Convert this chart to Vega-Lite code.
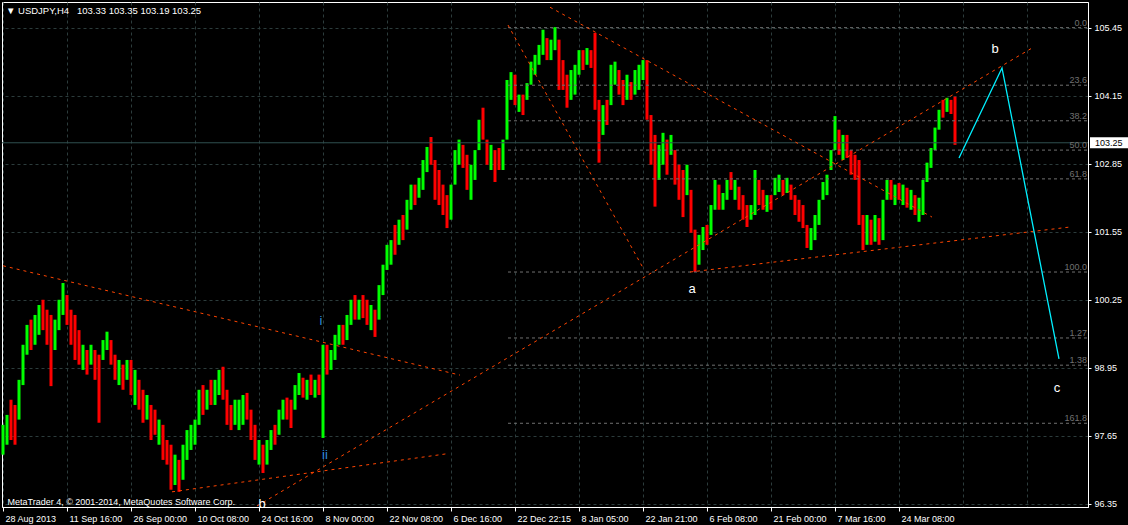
{
 "$schema": "https://vega.github.io/schema/vega-lite/v6.json",
 "width": 1086, "height": 505,
 "autosize": {"type": "none"},
 "padding": {"left": 2, "top": 2, "right": 40, "bottom": 18},
 "background": "#000000",
 "config": {"view": {"stroke": "#ffffff", "strokeWidth": 1, "fill": "#000000"}, "font": "Liberation Sans"},
 "datasets": {
  "bars": [
{"i":0,"o":97.40,"h":97.86,"l":97.29,"c":97.75},{"i":4,"o":97.55,"h":98.05,"l":97.48,"c":97.98},{"i":8,"o":98.25,"h":98.34,"l":97.57,"c":97.65},{"i":12,"o":98.15,"h":98.24,"l":97.48,"c":97.55},{"i":16,"o":97.98,"h":98.72,"l":97.96,"c":98.65},{"i":20,"o":98.68,"h":99.39,"l":98.62,"c":99.32},{"i":24,"o":99.28,"h":99.77,"l":99.20,"c":99.70},{"i":28,"o":99.75,"h":99.87,"l":99.29,"c":99.38},{"i":32,"o":99.45,"h":99.96,"l":99.39,"c":99.90},{"i":36,"o":99.65,"h":100.15,"l":99.58,"c":100.08},
{"i":40,"o":100.15,"h":100.25,"l":99.67,"c":99.75},{"i":44,"o":99.98,"h":100.06,"l":99.39,"c":99.48},{"i":48,"o":99.85,"h":99.96,"l":98.60,"c":99.40},{"i":52,"o":99.38,"h":99.87,"l":99.29,"c":99.80},{"i":56,"o":99.75,"h":100.25,"l":99.67,"c":100.18},{"i":60,"o":100.05,"h":100.57,"l":99.96,"c":100.50},{"i":64,"o":100.28,"h":100.34,"l":99.77,"c":99.85},{"i":68,"o":99.98,"h":100.06,"l":99.39,"c":99.48},{"i":72,"o":99.85,"h":99.96,"l":99.10,"c":99.20},{"i":76,"o":99.58,"h":99.67,"l":99.01,"c":99.10},
{"i":80,"o":98.98,"h":99.39,"l":98.91,"c":99.32},{"i":84,"o":99.22,"h":99.29,"l":98.82,"c":98.88},{"i":88,"o":99.05,"h":99.39,"l":99.01,"c":99.33},{"i":92,"o":99.22,"h":99.29,"l":98.72,"c":98.80},{"i":96,"o":99.12,"h":99.20,"l":97.90,"c":98.85},{"i":100,"o":99.15,"h":99.48,"l":99.10,"c":99.42},{"i":104,"o":99.35,"h":99.64,"l":99.29,"c":99.58},{"i":108,"o":99.42,"h":99.48,"l":99.01,"c":99.08},{"i":112,"o":99.12,"h":99.20,"l":98.72,"c":98.80},{"i":116,"o":98.70,"h":99.10,"l":98.62,"c":99.02},
{"i":120,"o":98.95,"h":99.01,"l":98.53,"c":98.60},{"i":124,"o":98.78,"h":99.10,"l":98.72,"c":99.05},{"i":128,"o":99.02,"h":99.10,"l":98.43,"c":98.50},{"i":132,"o":98.30,"h":98.91,"l":98.24,"c":98.85},{"i":136,"o":98.65,"h":98.72,"l":98.15,"c":98.22},{"i":140,"o":98.45,"h":98.53,"l":97.90,"c":98.00},{"i":144,"o":98.02,"h":98.43,"l":97.96,"c":98.38},{"i":148,"o":98.18,"h":98.24,"l":97.57,"c":97.65},{"i":152,"o":98.05,"h":98.15,"l":97.67,"c":97.75},{"i":156,"o":97.55,"h":97.96,"l":97.48,"c":97.90},
{"i":160,"o":97.80,"h":97.86,"l":97.19,"c":97.28},{"i":164,"o":97.50,"h":97.57,"l":97.10,"c":97.18},{"i":168,"o":97.40,"h":97.48,"l":96.62,"c":96.75},{"i":172,"o":96.80,"h":97.29,"l":96.71,"c":97.22},{"i":176,"o":97.12,"h":97.19,"l":96.58,"c":96.68},{"i":180,"o":96.88,"h":97.48,"l":96.81,"c":97.40},{"i":184,"o":97.28,"h":97.76,"l":97.19,"c":97.70},{"i":188,"o":97.45,"h":97.86,"l":97.38,"c":97.80},{"i":192,"o":97.55,"h":97.96,"l":97.48,"c":97.90},{"i":196,"o":97.92,"h":98.53,"l":97.86,"c":98.45},
{"i":200,"o":98.55,"h":98.62,"l":98.05,"c":98.15},{"i":204,"o":98.18,"h":98.53,"l":98.15,"c":98.48},{"i":208,"o":98.65,"h":98.72,"l":98.24,"c":98.30},{"i":212,"o":98.30,"h":98.72,"l":98.24,"c":98.66},{"i":216,"o":98.50,"h":98.91,"l":98.43,"c":98.85},{"i":220,"o":98.90,"h":98.97,"l":98.34,"c":98.40},{"i":224,"o":98.45,"h":98.53,"l":97.86,"c":97.95},{"i":228,"o":98.18,"h":98.24,"l":97.76,"c":97.82},{"i":232,"o":97.92,"h":98.34,"l":97.86,"c":98.28},{"i":236,"o":97.82,"h":98.34,"l":97.76,"c":98.25},
{"i":240,"o":97.92,"h":98.43,"l":97.86,"c":98.38},{"i":244,"o":98.40,"h":98.47,"l":97.96,"c":98.02},{"i":248,"o":98.08,"h":98.15,"l":97.57,"c":97.65},{"i":252,"o":97.78,"h":97.86,"l":97.19,"c":97.28},{"i":256,"o":97.15,"h":97.57,"l":97.10,"c":97.50},{"i":260,"o":97.40,"h":97.48,"l":96.94,"c":97.02},{"i":264,"o":97.15,"h":97.57,"l":97.10,"c":97.50},{"i":268,"o":97.42,"h":97.76,"l":97.38,"c":97.70},{"i":272,"o":97.80,"h":97.86,"l":97.48,"c":97.55},{"i":276,"o":97.72,"h":98.15,"l":97.67,"c":98.10},
{"i":280,"o":98.00,"h":98.34,"l":97.96,"c":98.28},{"i":284,"o":98.32,"h":98.38,"l":97.96,"c":98.02},{"i":288,"o":98.25,"h":98.34,"l":97.80,"c":97.88},{"i":292,"o":98.20,"h":98.62,"l":98.15,"c":98.55},{"i":296,"o":98.48,"h":98.85,"l":98.43,"c":98.80},{"i":300,"o":98.70,"h":98.76,"l":98.38,"c":98.42},{"i":304,"o":98.38,"h":98.72,"l":98.34,"c":98.66},{"i":308,"o":98.76,"h":98.82,"l":98.43,"c":98.48},{"i":312,"o":98.42,"h":98.72,"l":98.38,"c":98.68},{"i":316,"o":98.75,"h":98.82,"l":98.43,"c":98.48},
{"i":320,"o":97.80,"h":99.39,"l":97.61,"c":99.30},{"i":324,"o":99.30,"h":99.39,"l":98.82,"c":98.90},{"i":328,"o":98.95,"h":99.29,"l":98.91,"c":99.24},{"i":332,"o":99.15,"h":99.58,"l":99.10,"c":99.52},{"i":336,"o":99.42,"h":99.77,"l":99.39,"c":99.72},{"i":340,"o":99.72,"h":99.77,"l":99.39,"c":99.45},{"i":344,"o":99.52,"h":99.96,"l":99.48,"c":99.90},{"i":348,"o":99.82,"h":100.25,"l":99.77,"c":100.20},{"i":352,"o":100.28,"h":100.34,"l":99.87,"c":99.92},{"i":356,"o":99.90,"h":100.25,"l":99.87,"c":100.20},
{"i":360,"o":100.28,"h":100.34,"l":99.90,"c":99.95},{"i":364,"o":100.18,"h":100.25,"l":99.77,"c":99.82},{"i":368,"o":99.72,"h":100.15,"l":99.67,"c":100.10},{"i":372,"o":99.98,"h":100.06,"l":99.54,"c":99.60},{"i":376,"o":99.92,"h":100.53,"l":99.87,"c":100.45},{"i":380,"o":100.40,"h":100.92,"l":100.34,"c":100.85},{"i":384,"o":100.88,"h":101.30,"l":100.82,"c":101.25},{"i":388,"o":100.98,"h":101.39,"l":100.92,"c":101.33},{"i":392,"o":101.60,"h":101.68,"l":101.11,"c":101.18},{"i":396,"o":101.35,"h":101.78,"l":101.30,"c":101.72},
{"i":400,"o":101.80,"h":101.87,"l":101.39,"c":101.45},{"i":404,"o":101.65,"h":102.16,"l":101.59,"c":102.10},{"i":408,"o":102.02,"h":102.45,"l":101.97,"c":102.40},{"i":412,"o":102.40,"h":102.45,"l":102.06,"c":102.12},{"i":416,"o":102.25,"h":102.58,"l":102.20,"c":102.52},{"i":420,"o":102.40,"h":102.92,"l":102.35,"c":102.86},{"i":424,"o":102.75,"h":103.17,"l":102.69,"c":103.10},{"i":428,"o":103.25,"h":103.36,"l":102.83,"c":102.90},{"i":432,"o":102.85,"h":102.92,"l":102.16,"c":102.25},{"i":436,"o":102.65,"h":102.73,"l":102.06,"c":102.15},
{"i":440,"o":102.38,"h":102.45,"l":101.87,"c":101.95},{"i":444,"o":102.18,"h":102.25,"l":101.62,"c":101.70},{"i":448,"o":101.85,"h":102.45,"l":101.78,"c":102.40},{"i":452,"o":102.50,"h":103.11,"l":102.45,"c":103.05},{"i":456,"o":102.90,"h":103.31,"l":102.83,"c":103.25},{"i":460,"o":103.15,"h":103.21,"l":102.77,"c":102.82},{"i":464,"o":102.95,"h":103.02,"l":102.35,"c":102.42},{"i":468,"o":102.22,"h":102.83,"l":102.16,"c":102.76},{"i":472,"o":102.60,"h":103.11,"l":102.54,"c":103.05},{"i":476,"o":103.18,"h":103.69,"l":103.11,"c":103.62},
{"i":480,"o":103.85,"h":103.92,"l":103.31,"c":103.38},{"i":484,"o":103.25,"h":103.31,"l":102.83,"c":102.90},{"i":488,"o":102.78,"h":103.21,"l":102.73,"c":103.15},{"i":492,"o":103.05,"h":103.11,"l":102.50,"c":102.58},{"i":496,"o":103.08,"h":103.15,"l":102.73,"c":102.80},{"i":500,"o":102.78,"h":103.31,"l":102.73,"c":103.25},{"i":504,"o":103.40,"h":104.45,"l":103.31,"c":104.38},{"i":508,"o":104.12,"h":104.60,"l":104.07,"c":104.55},{"i":512,"o":104.48,"h":104.55,"l":103.97,"c":104.05},{"i":516,"o":103.88,"h":104.17,"l":103.84,"c":104.12},
{"i":520,"o":104.12,"h":104.17,"l":103.78,"c":103.85},{"i":524,"o":104.10,"h":104.39,"l":104.07,"c":104.35},{"i":528,"o":104.40,"h":104.80,"l":104.36,"c":104.75},{"i":532,"o":104.60,"h":104.93,"l":104.55,"c":104.88},{"i":536,"o":104.78,"h":105.12,"l":104.74,"c":105.08},{"i":540,"o":104.98,"h":105.41,"l":104.93,"c":105.35},{"i":544,"o":105.20,"h":105.25,"l":104.83,"c":104.88},{"i":548,"o":104.88,"h":105.22,"l":104.83,"c":105.15},{"i":552,"o":105.08,"h":105.46,"l":105.02,"c":105.40},{"i":556,"o":105.15,"h":105.22,"l":104.26,"c":104.35},
{"i":560,"o":104.75,"h":104.83,"l":104.26,"c":104.32},{"i":564,"o":104.45,"h":104.55,"l":103.92,"c":104.00},{"i":568,"o":104.12,"h":104.64,"l":104.07,"c":104.58},{"i":572,"o":104.22,"h":104.74,"l":104.17,"c":104.68},{"i":576,"o":104.60,"h":105.02,"l":104.55,"c":104.96},{"i":580,"o":104.96,"h":105.02,"l":104.64,"c":104.70},{"i":584,"o":104.78,"h":105.06,"l":104.74,"c":105.00},{"i":588,"o":104.98,"h":105.02,"l":104.68,"c":104.72},{"i":592,"o":105.00,"h":105.35,"l":103.88,"c":104.00},{"i":596,"o":103.98,"h":104.07,"l":102.87,"c":103.00},
{"i":600,"o":103.45,"h":103.97,"l":103.40,"c":103.90},{"i":604,"o":104.00,"h":104.07,"l":103.59,"c":103.65},{"i":608,"o":104.02,"h":104.74,"l":103.97,"c":104.68},{"i":612,"o":104.40,"h":104.80,"l":104.36,"c":104.74},{"i":616,"o":104.58,"h":104.64,"l":104.17,"c":104.22},{"i":620,"o":104.38,"h":104.45,"l":103.97,"c":104.02},{"i":624,"o":104.12,"h":104.55,"l":104.07,"c":104.50},{"i":628,"o":104.36,"h":104.41,"l":104.07,"c":104.12},{"i":632,"o":104.22,"h":104.64,"l":104.17,"c":104.58},{"i":636,"o":104.30,"h":104.74,"l":104.26,"c":104.68},
{"i":640,"o":104.50,"h":104.83,"l":104.45,"c":104.78},{"i":644,"o":104.75,"h":104.83,"l":103.69,"c":103.78},{"i":648,"o":103.70,"h":103.78,"l":102.83,"c":102.92},{"i":652,"o":103.30,"h":103.40,"l":102.03,"c":102.35},{"i":656,"o":102.60,"h":103.21,"l":102.54,"c":103.15},{"i":660,"o":102.90,"h":103.44,"l":102.83,"c":103.38},{"i":664,"o":103.25,"h":103.31,"l":102.64,"c":102.70},{"i":668,"o":103.05,"h":103.40,"l":103.02,"c":103.35},{"i":672,"o":103.05,"h":103.11,"l":102.45,"c":102.52},{"i":676,"o":102.78,"h":102.83,"l":102.16,"c":102.22},
{"i":680,"o":102.65,"h":102.73,"l":101.83,"c":101.95},{"i":684,"o":102.30,"h":102.83,"l":102.25,"c":102.78},{"i":688,"o":102.28,"h":102.35,"l":101.53,"c":101.60},{"i":692,"o":101.50,"h":101.59,"l":100.78,"c":100.90},{"i":696,"o":100.98,"h":101.49,"l":100.92,"c":101.42},{"i":700,"o":101.25,"h":101.64,"l":101.20,"c":101.58},{"i":704,"o":101.62,"h":101.68,"l":101.30,"c":101.35},{"i":708,"o":101.55,"h":102.06,"l":101.49,"c":102.00},{"i":712,"o":102.02,"h":102.54,"l":101.97,"c":102.48},{"i":716,"o":102.40,"h":102.45,"l":101.97,"c":102.02},
{"i":720,"o":102.00,"h":102.29,"l":101.97,"c":102.25},{"i":724,"o":102.20,"h":102.54,"l":102.16,"c":102.48},{"i":728,"o":102.64,"h":102.69,"l":102.35,"c":102.40},{"i":732,"o":102.20,"h":102.54,"l":102.16,"c":102.50},{"i":736,"o":102.36,"h":102.41,"l":101.97,"c":102.02},{"i":740,"o":102.20,"h":102.25,"l":101.78,"c":101.84},{"i":744,"o":102.00,"h":102.06,"l":101.64,"c":101.70},{"i":748,"o":101.80,"h":102.06,"l":101.78,"c":102.02},{"i":752,"o":101.92,"h":102.73,"l":101.87,"c":102.60},{"i":756,"o":102.48,"h":102.54,"l":102.06,"c":102.10},
{"i":760,"o":102.30,"h":102.35,"l":101.97,"c":102.02},{"i":764,"o":101.96,"h":102.25,"l":101.93,"c":102.22},{"i":768,"o":102.22,"h":102.25,"l":101.97,"c":102.00},{"i":772,"o":102.28,"h":102.58,"l":102.25,"c":102.54},{"i":776,"o":102.35,"h":102.64,"l":102.31,"c":102.60},{"i":780,"o":102.50,"h":102.54,"l":102.25,"c":102.28},{"i":784,"o":102.32,"h":102.58,"l":102.29,"c":102.55},{"i":788,"o":102.42,"h":102.45,"l":102.16,"c":102.20},{"i":792,"o":102.22,"h":102.25,"l":101.87,"c":101.92},{"i":796,"o":102.12,"h":102.16,"l":101.74,"c":101.80},
{"i":800,"o":102.00,"h":102.06,"l":101.62,"c":101.68},{"i":804,"o":101.62,"h":101.68,"l":101.24,"c":101.30},{"i":808,"o":101.25,"h":101.62,"l":101.20,"c":101.55},{"i":812,"o":101.45,"h":101.87,"l":101.39,"c":101.82},{"i":816,"o":101.72,"h":102.16,"l":101.68,"c":102.10},{"i":820,"o":102.20,"h":102.50,"l":102.16,"c":102.45},{"i":824,"o":102.30,"h":102.64,"l":102.25,"c":102.60},{"i":828,"o":102.78,"h":103.11,"l":102.73,"c":103.06},{"i":832,"o":103.18,"h":103.76,"l":103.11,"c":103.70},{"i":836,"o":103.45,"h":103.50,"l":103.02,"c":103.08},
{"i":840,"o":102.98,"h":103.40,"l":102.92,"c":103.35},{"i":844,"o":103.35,"h":103.40,"l":102.96,"c":103.00},{"i":848,"o":103.05,"h":103.11,"l":102.64,"c":102.70},{"i":852,"o":102.98,"h":103.02,"l":102.54,"c":102.60},{"i":856,"o":102.85,"h":102.92,"l":101.68,"c":101.80},{"i":860,"o":101.82,"h":101.87,"l":101.20,"c":101.28},{"i":864,"o":101.35,"h":101.87,"l":101.30,"c":101.80},{"i":868,"o":101.72,"h":101.78,"l":101.30,"c":101.36},{"i":872,"o":101.40,"h":101.87,"l":101.36,"c":101.82},{"i":876,"o":101.76,"h":101.81,"l":101.30,"c":101.36},
{"i":880,"o":101.45,"h":102.16,"l":101.39,"c":102.10},{"i":884,"o":102.20,"h":102.54,"l":102.16,"c":102.48},{"i":888,"o":102.50,"h":102.54,"l":102.16,"c":102.22},{"i":892,"o":102.10,"h":102.45,"l":102.06,"c":102.40},{"i":896,"o":102.44,"h":102.48,"l":102.16,"c":102.20},{"i":900,"o":102.10,"h":102.45,"l":102.06,"c":102.40},{"i":904,"o":102.35,"h":102.39,"l":102.01,"c":102.05},{"i":908,"o":102.00,"h":102.35,"l":101.97,"c":102.30},{"i":912,"o":102.22,"h":102.25,"l":101.87,"c":101.92},{"i":916,"o":101.78,"h":102.20,"l":101.74,"c":102.15},
{"i":920,"o":101.92,"h":102.54,"l":101.87,"c":102.48},{"i":924,"o":102.54,"h":102.87,"l":102.50,"c":102.82},{"i":928,"o":102.82,"h":103.15,"l":102.77,"c":103.10},{"i":932,"o":103.15,"h":103.54,"l":103.11,"c":103.48},{"i":936,"o":103.52,"h":103.88,"l":103.50,"c":103.82},{"i":940,"o":104.00,"h":104.07,"l":103.73,"c":103.78},{"i":944,"o":103.86,"h":104.11,"l":103.84,"c":104.06},{"i":948,"o":104.04,"h":104.07,"l":103.80,"c":103.84},{"i":952,"o":104.10,"h":104.13,"l":103.21,"c":103.25}
  ],
  "trend": [
   {"id":"L1","i":0,"p":100.90},{"id":"L1","i":457,"p":98.81},
   {"id":"L2","i":254,"p":96.31},{"id":"L2","i":1029,"p":105.06},
   {"id":"L3","i":169,"p":96.58},{"id":"L3","i":445,"p":97.31},
   {"id":"L4","i":505,"p":105.50},{"id":"L4","i":640,"p":100.86},
   {"id":"L5","i":547,"p":105.84},{"id":"L5","i":929,"p":101.83},
   {"id":"L6","i":687,"p":100.78},{"id":"L6","i":1067,"p":101.64}
  ],
  "wave": [{"i":956,"p":102.96},{"i":999,"p":104.68},{"i":1056,"p":99.12}],
  "fib": [
   {"lab":"0.0","p":105.45},{"lab":"23.6","p":104.35},{"lab":"38.2","p":103.67},{"lab":"50.0","p":103.11},{"lab":"61.8","p":102.56},{"lab":"100.0","p":100.78},{"lab":"1.27","p":99.52},{"lab":"1.38","p":99.00},{"lab":"161.8","p":97.89}
  ],
  "marks": [{"t":"b","i":992,"p":104.97},{"t":"a","i":689,"p":100.38},{"t":"c","i":1054,"p":98.49},{"t":"b","i":259,"p":96.27}],
  "sub": [{"t":"i","i":318,"p":99.77},{"t":"ii","i":322,"p":97.21}],
  "head": [{"t":"▼\u00a0USDJPY,H4\u00a0\u00a0\u00a0103.33\u00a0103.35\u00a0103.19\u00a0103.25","i":3,"p":105.71}],
  "last": [{"p":103.25}]
 },
 "layer": [
  {
   "data": {"name": "bars"},
   "mark": {"type": "rule", "strokeWidth": 3},
   "encoding": {
    "x": {"field": "i", "type": "quantitative", "scale": {"domain": [-1, 1085], "nice": false, "zero": false},
     "axis": {"values": [0,32,64,96,128,160,192,224,256,288,320,352,384,416,448,480,512,544,576,608,640,672,704,736,768,800,832,864,896,928,960,992,1024,1056],
      "grid": true, "gridColor": "#2c3c3c", "gridDash": [3, 3], "domainColor": "#ffffff", "tickColor": "#ffffff", "tickSize": 4,
      "tickOpacity": {"condition": {"test": "datum.value % 64 === 0 && datum.value <= 896", "value": 1}, "value": 0},
      "labelExpr": "datum.value % 64 !== 0 || datum.value > 896 ? '' : ['28 Aug 2013','11 Sep 16:00','26 Sep 00:00','10 Oct 08:00','24 Oct 16:00','8 Nov 00:00','22 Nov 08:00','6 Dec 16:00','22 Dec 22:15','8 Jan 05:00','22 Jan 21:00','6 Feb 08:00','21 Feb 00:00','7 Mar 16:00','24 Mar 08:00'][datum.value / 64]",
      "labelAlign": "left", "labelOffset": 2, "labelColor": "#ffffff", "labelFont": "Liberation Sans", "labelFontSize": 9, "labelPadding": 3, "labelFlush": false, "labelOverlap": false, "labelBaseline": "top",
      "title": "MetaTrader 4, © 2001-2014, MetaQuotes Software Corp.", "titleColor": "#ffffff", "titleFont": "Liberation Sans", "titleFontSize": 9, "titleFontWeight": "normal", "titleAnchor": "start", "titleAlign": "left", "titleBaseline": "alphabetic", "titleX": 5, "titleY": -3}},
    "y": {"field": "l", "type": "quantitative", "scale": {"domain": [96.29, 105.94], "nice": false, "zero": false},
     "axis": {"orient": "right", "values": [96.35,97,97.65,98.3,98.95,99.6,100.25,100.9,101.55,102.2,102.85,103.5,104.15,104.8,105.45], "format": ".2f",
      "grid": true, "gridColor": "#2c3c3c", "gridDash": [3, 3], "domainColor": "#ffffff", "tickColor": "#ffffff", "tickSize": 3,
      "labelColor": "#ffffff", "labelFont": "Liberation Sans", "labelFontSize": 9, "labelPadding": 3, "labelBaseline": "middle", "labelFlush": false, "labelOverlap": false, "title": null}},
    "y2": {"field": "h"},
    "color": {"condition": {"test": "datum.c >= datum.o", "value": "#00FF00"}, "value": "#FF0000"}
   }
  },
  {
   "data": {"name": "last"},
   "mark": {"type": "rule", "color": "#2F4F4F", "strokeWidth": 1},
   "encoding": {"y": {"field": "p", "type": "quantitative"}}
  },
  {
   "data": {"name": "fib"},
   "mark": {"type": "rule", "color": "#707070", "strokeDash": [3, 3], "strokeWidth": 1},
   "encoding": {
    "x": {"datum": 505, "type": "quantitative"},
    "x2": {"datum": 1085},
    "y": {"field": "p", "type": "quantitative"}
   }
  },
  {
   "data": {"name": "fib"},
   "mark": {"type": "text", "color": "#707070", "align": "right", "baseline": "alphabetic", "dy": -2, "fontSize": 9, "font": "Liberation Sans"},
   "encoding": {
    "x": {"datum": 1084, "type": "quantitative"},
    "y": {"field": "p", "type": "quantitative"},
    "text": {"field": "lab"}
   }
  },
  {
   "data": {"name": "trend"},
   "mark": {"type": "line", "color": "#FF4500", "strokeDash": [3, 4], "strokeWidth": 1},
   "encoding": {
    "x": {"field": "i", "type": "quantitative"},
    "y": {"field": "p", "type": "quantitative"},
    "detail": {"field": "id"}
   }
  },
  {
   "data": {"name": "wave"},
   "mark": {"type": "line", "color": "#00F0FF", "strokeWidth": 1.3},
   "encoding": {
    "x": {"field": "i", "type": "quantitative"},
    "y": {"field": "p", "type": "quantitative"}
   }
  },
  {
   "data": {"name": "marks"},
   "mark": {"type": "text", "color": "#ffffff", "align": "center", "baseline": "alphabetic", "fontSize": 13, "font": "Liberation Sans", "clip": true},
   "encoding": {
    "x": {"field": "i", "type": "quantitative"},
    "y": {"field": "p", "type": "quantitative"},
    "text": {"field": "t"}
   }
  },
  {
   "data": {"name": "sub"},
   "mark": {"type": "text", "color": "#2E8BDF", "align": "center", "baseline": "alphabetic", "fontSize": 13, "font": "Liberation Sans"},
   "encoding": {
    "x": {"field": "i", "type": "quantitative"},
    "y": {"field": "p", "type": "quantitative"},
    "text": {"field": "t"}
   }
  },
  {
   "data": {"name": "head"},
   "mark": {"type": "text", "color": "#ffffff", "align": "left", "baseline": "alphabetic", "fontSize": 9.5, "font": "Liberation Sans"},
   "encoding": {
    "x": {"field": "i", "type": "quantitative"},
    "y": {"field": "p", "type": "quantitative"},
    "text": {"field": "t"}
   }
  },
  {
   "data": {"name": "last"},
   "mark": {"type": "rect", "color": "#ffffff", "width": 38, "height": 11, "clip": false},
   "encoding": {
    "x": {"datum": 1106, "type": "quantitative"},
    "y": {"field": "p", "type": "quantitative"}
   }
  },
  {
   "data": {"name": "last"},
   "mark": {"type": "text", "color": "#000000", "align": "left", "baseline": "middle", "fontSize": 9, "font": "Liberation Sans", "clip": false},
   "encoding": {
    "x": {"datum": 1092, "type": "quantitative"},
    "y": {"field": "p", "type": "quantitative"},
    "text": {"field": "p", "format": ".2f"}
   }
  }
 ]
}
